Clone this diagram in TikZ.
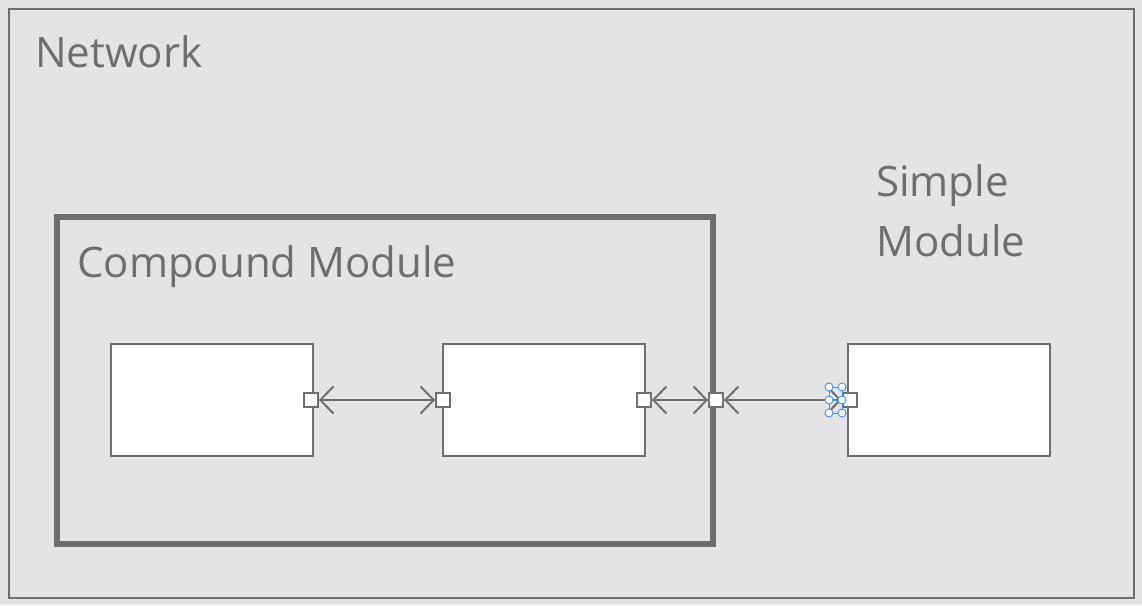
\documentclass[tikz,border=0pt]{standalone}
\usepackage{fontspec}
\setmainfont{Open Sans}
\usetikzlibrary{arrows.meta}
\definecolor{bggray}{HTML}{E4E4E4}
\definecolor{linegray}{HTML}{6E6E6E}
\definecolor{selblue}{HTML}{4A90E2}
\tikzset{
  module/.style={draw=linegray,line width=2pt,fill=white,minimum width=202pt,minimum height=112pt,inner sep=0pt},
  port/.style={draw=linegray,line width=2pt,fill=white,minimum size=14pt,inner sep=0pt},
  label/.style={text=linegray,font=\fontsize{42}{60}\selectfont,inner sep=0pt},
  link/.style={draw=linegray,line width=2pt,{Straight Barb[length=13pt,width=27pt]}-{Straight Barb[length=13pt,width=27pt]}},
  handle/.style={draw=selblue,fill=white,line width=0.9pt}
}
\begin{document}
\begin{tikzpicture}[x=1pt,y=-1pt]
  \fill[bggray] (0,0) rectangle (1142,605);
  \useasboundingbox (0,0) rectangle (1142,605);
  % network
  \draw[linegray,line width=2pt] (9,9) rectangle (1134,598);
  \node[label,anchor=base west] (net) at (35,67) {Network};
  % compound module
  \draw[linegray,line width=5.5pt] (57,217) rectangle (713,544);
  \node[label,anchor=base west] (cmp) at (77,277) {Compound Module};
  \node[module] (sub1) at (211.5,400) {};
  \node[module] (sub2) at (544,400) {};
  % simple module
  \node[label,anchor=base west,align=left] (smp) at (876,256) {Simple\\Module};
  \node[module] (simple) at (949,400) {};
%%%
  \node[port] (p1) at (311,400) {};
  \node[port] (p2) at (443,400) {};
  \node[port] (p3) at (644,400) {};
  \node[port] (pc) at (716,400) {};
  \node[port] (ps) at (849.5,400) {};
  \draw[link] (p1) -- (p2);
  \draw[link] (p3) -- (pc);
  \draw[link] (pc) -- (ps);
%%%
  \draw[selblue,line width=0.9pt] (829,387) rectangle (842,413) (829,400) -- (842,400);
  \foreach \hx in {829,842}
    \foreach \hy in {387,400,413}
      \draw[handle] (\hx,\hy) circle (4pt);
\end{tikzpicture}
\end{document}
